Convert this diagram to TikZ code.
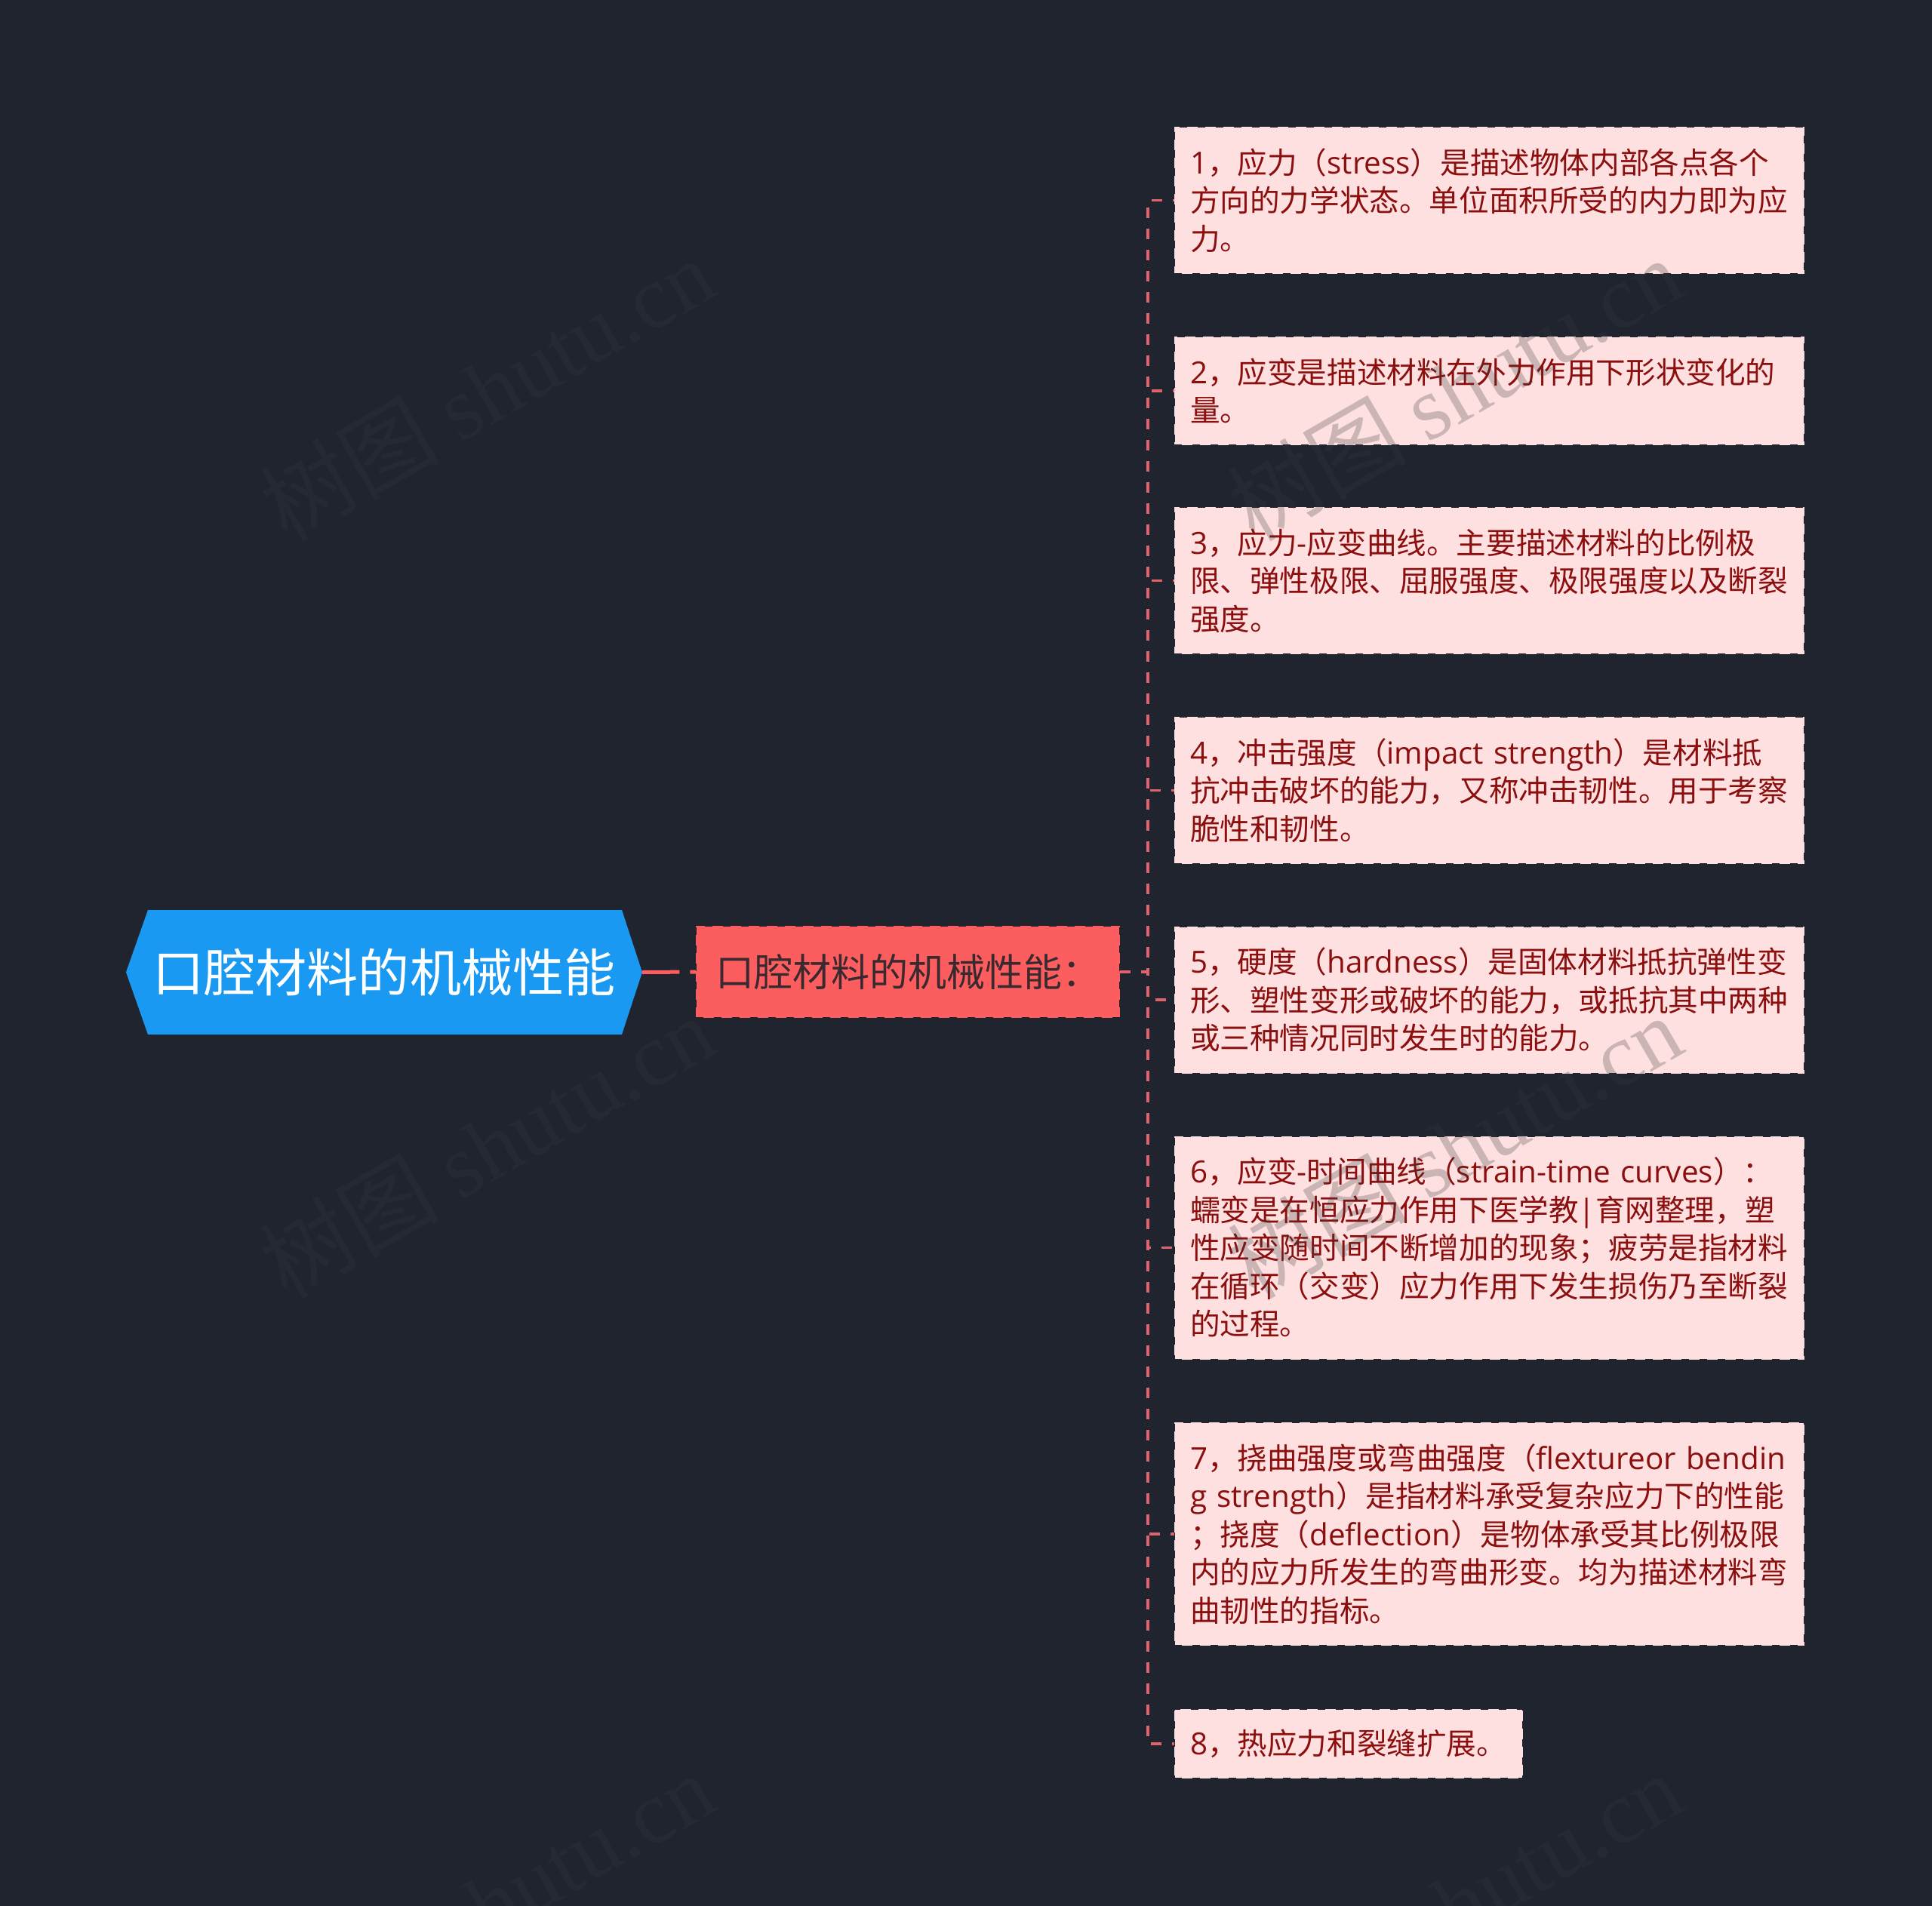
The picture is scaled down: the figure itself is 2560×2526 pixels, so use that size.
\documentclass[tikz,border=0pt]{standalone}
\usepackage{fontspec}
\setmainfont{Noto Sans CJK SC}
\newfontfamily\enfont[Scale=1.02]{Open Sans}
\newfontfamily\markfont{Liberation Serif}
\newcommand{\en}[1]{{\enfont #1}}
\definecolor{pagebg}{HTML}{20242F}
\definecolor{rootfill}{HTML}{1A99F2}
\definecolor{subfill}{HTML}{FC5E5F}
\definecolor{subtext}{HTML}{3A2A30}
\definecolor{itemfill}{HTML}{FEE0E0}
\definecolor{itemtext}{HTML}{8B0F0F}
\definecolor{linkred}{HTML}{E0636B}
\begin{document}
\begin{tikzpicture}[x=0.75pt,y=0.75pt,yscale=-1,xscale=1,
  rootbox/.style={inner sep=0pt,outer sep=0pt,minimum width=513pt,minimum height=123.75pt,text=white,font=\fontsize{51.1}{60}\selectfont},
  subbox/.style={fill=subfill,draw=pagebg,line width=1.5pt,dash pattern={on 7.5pt off 10.5pt},inner sep=0pt,outer sep=0pt,minimum width=421.5pt,minimum height=91.5pt,text=subtext,text width=382.5pt,align=left,font=\fontsize{38.3}{45}\selectfont},
  itembox/.style={fill=itemfill,draw=pagebg,line width=1.5pt,dash pattern={on 7.5pt off 10.5pt},inner sep=0pt,outer sep=0pt,minimum width=626.25pt,text=itemtext,text width=594.75pt,align=left,anchor=west,font=\fontsize{29.7}{37.9}\selectfont},
  rootlink/.style={draw=subfill,line width=3.75pt,dash pattern={on 37pt off 10.5pt}},
  itemlink/.style={draw=linkred,line width=2.6pt,dash pattern={on 10.5pt off 10.5pt}},
  markstyle/.style={text=black!78,opacity=0.26,rotate=30,inner sep=0pt,font=\fontsize{89}{96}\selectfont}]
\useasboundingbox (0,0) rectangle (2560,2526);
\fill [pagebg] (0,0) rectangle (2560,2526);

%Shape: Hexagon
\fill [rootfill] (167,1288.5) -- (196,1206) -- (824,1206) -- (851,1288.5) -- (824,1371) -- (196,1371) -- cycle ;

% Text Node
\node (root) [rootbox] at (509,1288.5) {口腔材料的机械性能};
% Text Node
\node (sub) [subbox] at (1203,1288) {口腔材料的机械性能：};
% Text Node
\node (item1) [itembox,minimum height=146.25pt] at (1556,265.5) {\en{1}，应力（\en{stress}）是描述物体内部各点各个\\方向的力学状态。单位面积所受的内力即为应\\力。};
% Text Node
\node (item2) [itembox,minimum height=108pt] at (1556,518) {\en{2}，应变是描述材料在外力作用下形状变化的\\量。};
% Text Node
\node (item3) [itembox,minimum height=146.25pt] at (1556,769.5) {\en{3}，应力\en{-}应变曲线。主要描述材料的比例极\\限、弹性极限、屈服强度、极限强度以及断裂\\强度。};
% Text Node
\node (item4) [itembox,minimum height=146.25pt] at (1556,1047.5) {\en{4}，冲击强度（\en{impact strength}）是材料抵\\抗冲击破坏的能力，又称冲击韧性。用于考察\\脆性和韧性。};
% Text Node
\node (item5) [itembox,minimum height=146.25pt] at (1556,1325) {\en{5}，硬度（\en{hardness}）是固体材料抵抗弹性变\\形、塑性变形或破坏的能力，或抵抗其中两种\\或三种情况同时发生时的能力。};
% Text Node
\node (item6) [itembox,minimum height=222pt] at (1556,1653.5) {\en{6}，应变\en{-}时间曲线（\en{strain-time curves}）：\\蠕变是在恒应力作用下医学教\en{|}育网整理，塑\\性应变随时间不断增加的现象；疲劳是指材料\\在循环（交变）应力作用下发生损伤乃至断裂\\的过程。};
% Text Node
\node (item7) [itembox,minimum height=222pt] at (1556,2033) {\en{7}，挠曲强度或弯曲强度（\en{flextureor bendin}\\\en{g strength}）是指材料承受复杂应力下的性能\\；挠度（\en{deflection}）是物体承受其比例极限\\内的应力所发生的弯曲形变。均为描述材料弯\\曲韧性的指标。};
% Text Node
\node (item8) [itembox,minimum height=69pt,minimum width=346.5pt,text width=315pt] at (1556,2311) {\en{8}，热应力和裂缝扩展。};

\coordinate (bend) at (1521,1288);
%Straight Lines
\draw [rootlink] (root.east) -- (sub.west) ;
%Straight Lines
\draw [itemlink] (sub.east) -- (bend) |- (item1.west) ;
%Straight Lines
\draw [itemlink] (sub.east) -- (bend) |- (item2.west) ;
%Straight Lines
\draw [itemlink] (sub.east) -- (bend) |- (item3.west) ;
%Straight Lines
\draw [itemlink] (sub.east) -- (bend) |- (item4.west) ;
%Straight Lines
\draw [itemlink] (sub.east) -- (bend) |- (item5.west) ;
%Straight Lines
\draw [itemlink] (sub.east) -- (bend) |- (item6.west) ;
%Straight Lines
\draw [itemlink] (sub.east) -- (bend) |- (item7.west) ;
%Straight Lines
\draw [itemlink] (sub.east) -- (bend) |- (item8.west) ;

% Text Node
\node (mark1) [markstyle] at (645,515) {树图 {\markfont shutu.cn}};
% Text Node
\node (mark2) [markstyle] at (1927,515) {树图 {\markfont shutu.cn}};
% Text Node
\node (mark3) [markstyle] at (645,1519) {树图 {\markfont shutu.cn}};
% Text Node
\node (mark4) [markstyle] at (1927,1519) {树图 {\markfont shutu.cn}};
% Text Node
\node (mark5) [markstyle] at (645,2523) {树图 {\markfont shutu.cn}};
% Text Node
\node (mark6) [markstyle] at (1927,2523) {树图 {\markfont shutu.cn}};
\end{tikzpicture}
\end{document}
